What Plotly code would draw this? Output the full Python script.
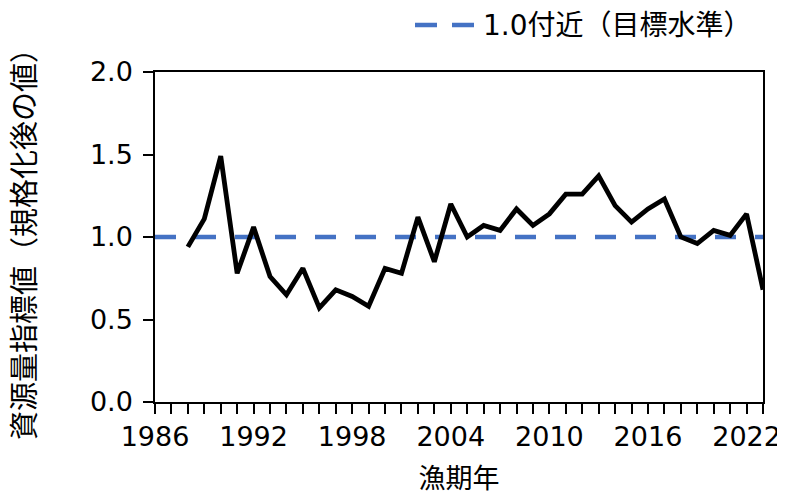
import plotly.graph_objects as go

years = list(range(1988, 2024))
index_values = [0.94, 1.11, 1.49, 0.78, 1.06, 0.76, 0.65, 0.81, 0.57, 0.68,
                0.64, 0.58, 0.81, 0.78, 1.12, 0.85, 1.20, 1.00, 1.07, 1.04,
                1.17, 1.07, 1.14, 1.26, 1.26, 1.37, 1.19, 1.09, 1.17, 1.23,
                1.00, 0.96, 1.04, 1.01, 1.14, 0.68]
target_years = [1986, 2023]
target_values = [1.0, 1.0]
legend_label = "1.0付近（目標水準）"
x_title = "漁期年"
y_title = "資源量指標値（規格化後の値）"

FONT = "DejaVu Sans, Noto Sans CJK JP, sans-serif"
BLUE = "#4472C4"
FS = 27

# page offset (body margin) is ~8px; plot area in page coords: x 155..763, y 72..402
PL, PR, PT, PB = 155, 763, 72, 402
PW, PH = PR - PL, PB - PT

def px(x):
    return (x - PL) / PW

def py(y):
    return (PB - y) / PH

fig = go.Figure()
fig.add_trace(go.Scatter(x=target_years, y=target_values, mode="lines",
                         line=dict(color=BLUE, width=4.5, dash="21px,19px"),
                         showlegend=False, hoverinfo="skip"))
fig.add_trace(go.Scatter(x=years, y=index_values, mode="lines",
                         line=dict(color="black", width=4.8),
                         showlegend=False))

# manual legend (sample line + label) above the plot
fig.add_shape(type="line", xref="paper", yref="paper",
              x0=px(415), x1=px(475), y0=py(25), y1=py(25),
              line=dict(color=BLUE, width=4.5, dash="22px,15px"))
fig.add_annotation(xref="paper", yref="paper",
                   x=px(481), y=py(25),
                   xanchor="left", yanchor="middle", showarrow=False,
                   text=legend_label, font=dict(family=FONT, size=28, color="#000"))

fig.update_layout(
    width=777, height=486,
    margin=dict(l=147, r=22, t=64, b=92),
    paper_bgcolor="white", plot_bgcolor="white",
    font=dict(family=FONT, size=FS, color="#000"),
    showlegend=False,
)
fig.update_xaxes(
    range=[1986, 2023], tick0=1986, dtick=6,
    automargin=False,
    showline=True, linecolor="black", linewidth=1.5, mirror=True,
    ticks="outside", ticklen=10, tickwidth=1.5, tickcolor="black",
    minor=dict(dtick=1, tick0=1986, ticks="outside", ticklen=10, tickwidth=1.5, tickcolor="black"),
    showgrid=False, zeroline=False,
    tickfont=dict(family=FONT, size=FS),
    title=dict(text=x_title, font=dict(family=FONT, size=FS), standoff=31),
)
fig.update_yaxes(
    range=[0, 2.0], dtick=0.5, tickformat=".1f",
    automargin=False,
    showline=True, linecolor="black", linewidth=1.5, mirror=True,
    ticks="outside", ticklen=10, tickwidth=1.5, tickcolor="black",
    ticklabelstandoff=5,
    showgrid=False, zeroline=False,
    tickfont=dict(family=FONT, size=FS),
    title=dict(text=y_title, font=dict(family=FONT, size=29), standoff=46),
)

fig.write_html("out.html")
